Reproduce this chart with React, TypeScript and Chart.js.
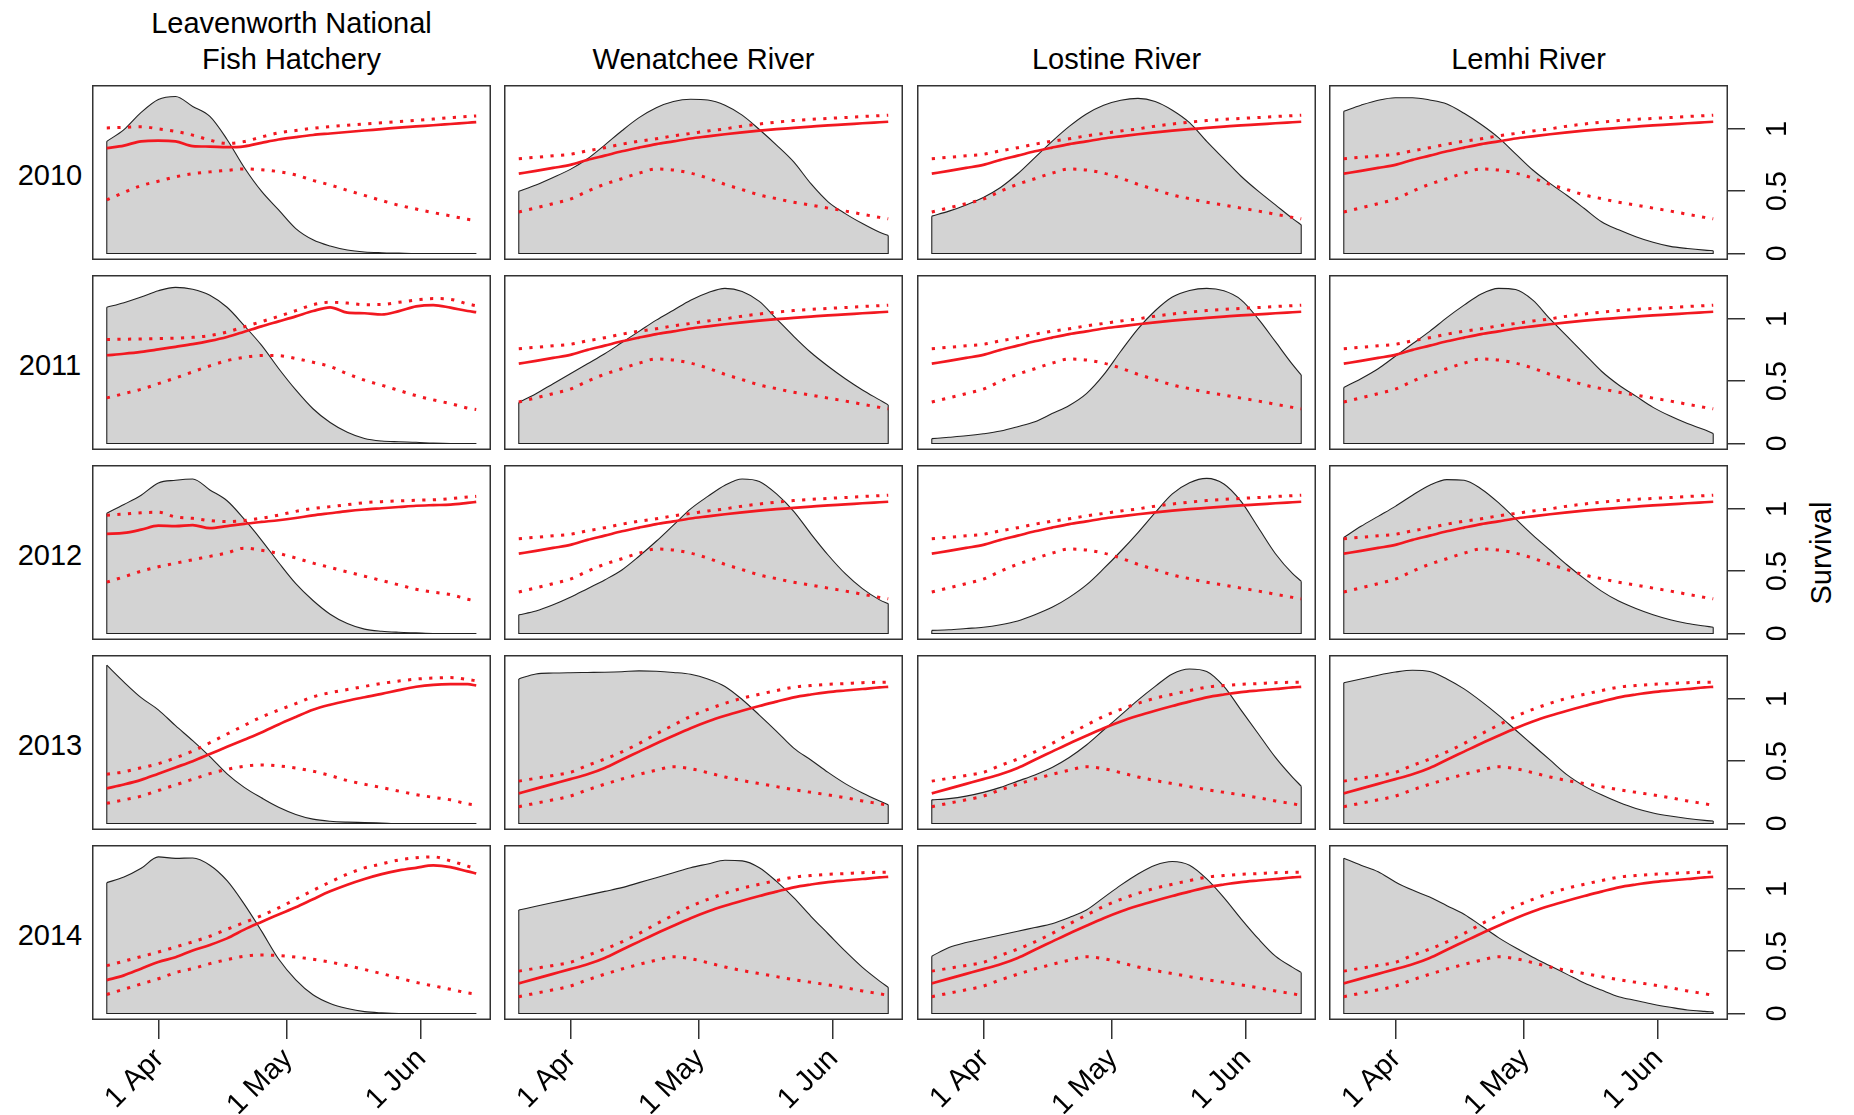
import React, { useEffect, useRef } from "react";
import { Chart, registerables } from "chart.js";

Chart.register(...registerables);

const FONT = '"Liberation Sans", Arial, Helvetica, sans-serif';

// ---------- categories & ticks ----------
const sites = ["Leavenworth National\nFish Hatchery", "Wenatchee River", "Lostine River", "Lemhi River"];
const years = ["2010", "2011", "2012", "2013", "2014"];
const yAxisTitle = "Survival";
// days relative to 1 April
const days = [-12, -8, -4, 0, 4, 8, 12, 16, 20, 24, 28, 32, 36, 40, 44, 48, 52, 56, 60, 64, 68, 72, 74];
const xTickDays = [0, 30, 61];
const xTickLabels = ["1 Apr", "1 May", "1 Jun"];
const yTickValues = [0, 0.5, 1];
const yTickLabels = ["0", "0.5", "1"];
const yLimits = [0, 1.3];

// ---------- survival curves (mean, upper, lower) ----------
const riverEarlyMean = [0.641, 0.663, 0.687, 0.711, 0.751, 0.785, 0.82, 0.85, 0.878, 0.9, 0.923, 0.94, 0.957, 0.972, 0.986, 0.998, 1.008, 1.018, 1.028, 1.036, 1.045, 1.053, 1.057];
const riverEarlyUpper = [0.761, 0.772, 0.784, 0.796, 0.824, 0.849, 0.877, 0.901, 0.921, 0.944, 0.963, 0.983, 1.0, 1.022, 1.039, 1.054, 1.067, 1.076, 1.084, 1.091, 1.099, 1.106, 1.11];
const riverEarlyLower = [0.333, 0.366, 0.4, 0.436, 0.5, 0.556, 0.6, 0.645, 0.678, 0.67, 0.645, 0.605, 0.555, 0.513, 0.47, 0.44, 0.411, 0.388, 0.364, 0.341, 0.315, 0.29, 0.279];

const riverLateMean = [0.242, 0.28, 0.318, 0.356, 0.395, 0.446, 0.512, 0.577, 0.642, 0.704, 0.764, 0.818, 0.864, 0.905, 0.943, 0.978, 1.012, 1.035, 1.054, 1.067, 1.079, 1.092, 1.097];
const riverLateUpper = [0.34, 0.363, 0.386, 0.41, 0.466, 0.517, 0.575, 0.642, 0.718, 0.79, 0.86, 0.916, 0.964, 1.005, 1.037, 1.067, 1.094, 1.107, 1.117, 1.123, 1.13, 1.133, 1.134];
const riverLateLower = [0.135, 0.163, 0.19, 0.22, 0.27, 0.315, 0.357, 0.394, 0.428, 0.455, 0.44, 0.408, 0.373, 0.345, 0.32, 0.296, 0.272, 0.25, 0.23, 0.207, 0.181, 0.158, 0.146];

const hatch2010Mean = [0.846, 0.866, 0.9, 0.905, 0.9, 0.862, 0.858, 0.853, 0.86, 0.888, 0.915, 0.934, 0.951, 0.963, 0.975, 0.987, 0.998, 1.01, 1.02, 1.029, 1.039, 1.049, 1.054];
const hatch2010Upper = [1.008, 1.012, 1.018, 1.0, 0.98, 0.95, 0.91, 0.883, 0.898, 0.935, 0.968, 0.987, 1.005, 1.018, 1.029, 1.04, 1.049, 1.058, 1.068, 1.079, 1.09, 1.1, 1.104];
const hatch2010Lower = [0.43, 0.49, 0.545, 0.58, 0.615, 0.64, 0.655, 0.667, 0.679, 0.672, 0.657, 0.63, 0.587, 0.55, 0.507, 0.466, 0.425, 0.387, 0.357, 0.328, 0.302, 0.275, 0.265];

const hatch2011Mean = [0.708, 0.72, 0.735, 0.755, 0.776, 0.797, 0.823, 0.855, 0.897, 0.94, 0.98, 1.02, 1.063, 1.093, 1.05, 1.045, 1.035, 1.062, 1.1, 1.111, 1.09, 1.063, 1.054];
const hatch2011Upper = [0.835, 0.837, 0.839, 0.842, 0.845, 0.852, 0.866, 0.895, 0.937, 0.978, 1.02, 1.066, 1.113, 1.133, 1.127, 1.114, 1.115, 1.133, 1.151, 1.163, 1.157, 1.12, 1.105];
const hatch2011Lower = [0.366, 0.4, 0.435, 0.48, 0.526, 0.575, 0.623, 0.665, 0.692, 0.706, 0.705, 0.682, 0.652, 0.618, 0.56, 0.508, 0.468, 0.426, 0.384, 0.35, 0.32, 0.285, 0.273];

const hatch2012Mean = [0.8, 0.807, 0.833, 0.865, 0.862, 0.87, 0.845, 0.862, 0.88, 0.895, 0.909, 0.927, 0.948, 0.965, 0.982, 0.995, 1.005, 1.015, 1.025, 1.03, 1.034, 1.048, 1.056];
const hatch2012Upper = [0.949, 0.958, 0.969, 0.973, 0.935, 0.924, 0.906, 0.898, 0.907, 0.925, 0.95, 0.98, 1.003, 1.018, 1.034, 1.05, 1.058, 1.064, 1.069, 1.073, 1.082, 1.095, 1.101];
const hatch2012Lower = [0.412, 0.455, 0.5, 0.535, 0.564, 0.592, 0.619, 0.647, 0.685, 0.668, 0.642, 0.606, 0.565, 0.53, 0.494, 0.46, 0.425, 0.39, 0.355, 0.332, 0.312, 0.275, 0.26];

const hatch2013Mean = [0.282, 0.313, 0.35, 0.4, 0.45, 0.5, 0.557, 0.615, 0.672, 0.73, 0.795, 0.855, 0.913, 0.953, 0.985, 1.013, 1.04, 1.07, 1.097, 1.113, 1.118, 1.118, 1.107];
const hatch2013Upper = [0.395, 0.415, 0.447, 0.48, 0.527, 0.58, 0.648, 0.718, 0.787, 0.855, 0.91, 0.962, 1.016, 1.05, 1.075, 1.1, 1.124, 1.143, 1.159, 1.167, 1.171, 1.155, 1.145];
const hatch2013Lower = [0.162, 0.19, 0.22, 0.265, 0.31, 0.355, 0.4, 0.434, 0.46, 0.47, 0.462, 0.445, 0.42, 0.385, 0.345, 0.315, 0.288, 0.26, 0.232, 0.21, 0.19, 0.158, 0.148];

const hatch2014Mean = [0.268, 0.306, 0.36, 0.413, 0.452, 0.505, 0.55, 0.603, 0.673, 0.735, 0.795, 0.852, 0.917, 0.98, 1.033, 1.079, 1.118, 1.148, 1.169, 1.188, 1.175, 1.14, 1.124];
const hatch2014Upper = [0.384, 0.42, 0.457, 0.493, 0.534, 0.575, 0.62, 0.676, 0.73, 0.785, 0.848, 0.917, 0.988, 1.055, 1.118, 1.168, 1.2, 1.232, 1.25, 1.257, 1.225, 1.182, 1.16];
const hatch2014Lower = [0.153, 0.195, 0.237, 0.279, 0.328, 0.36, 0.4, 0.432, 0.46, 0.47, 0.465, 0.453, 0.435, 0.412, 0.385, 0.353, 0.32, 0.285, 0.25, 0.222, 0.195, 0.165, 0.155];

// ---------- passage density (scaled) ----------
const densLeavenworth2010 = [0.9, 0.994, 1.132, 1.236, 1.26, 1.18, 1.1, 0.915, 0.69, 0.5, 0.35, 0.2, 0.11, 0.06, 0.028, 0.012, 0.006, 0.003, 0, 0, 0, 0, 0];
const densLeavenworth2011 = [1.093, 1.13, 1.175, 1.226, 1.253, 1.238, 1.19, 1.093, 0.946, 0.789, 0.602, 0.43, 0.279, 0.168, 0.09, 0.04, 0.02, 0.014, 0.01, 0.003, 0, 0, 0];
const densLeavenworth2012 = [0.965, 1.035, 1.11, 1.208, 1.23, 1.24, 1.152, 1.065, 0.917, 0.75, 0.57, 0.4, 0.265, 0.155, 0.08, 0.035, 0.018, 0.01, 0.005, 0, 0, 0, 0];
const densLeavenworth2013 = [1.27, 1.135, 1.01, 0.912, 0.785, 0.665, 0.537, 0.399, 0.29, 0.206, 0.13, 0.073, 0.035, 0.018, 0.011, 0.008, 0.004, 0, 0, 0, 0, 0, 0];
const densLeavenworth2014 = [1.05, 1.095, 1.165, 1.257, 1.245, 1.248, 1.19, 1.066, 0.878, 0.663, 0.437, 0.27, 0.15, 0.08, 0.04, 0.015, 0.005, 0, 0, 0, 0, 0, 0];

const densWenatchee2010 = [0.5, 0.55, 0.61, 0.675, 0.76, 0.87, 0.985, 1.09, 1.17, 1.22, 1.238, 1.232, 1.19, 1.11, 0.995, 0.87, 0.735, 0.56, 0.415, 0.32, 0.24, 0.17, 0.145];
const densWenatchee2011 = [0.33, 0.4, 0.48, 0.56, 0.64, 0.72, 0.81, 0.9, 0.99, 1.07, 1.15, 1.21, 1.245, 1.22, 1.14, 1.0, 0.86, 0.73, 0.62, 0.52, 0.43, 0.35, 0.31];
const densWenatchee2012 = [0.15, 0.18, 0.23, 0.29, 0.36, 0.43, 0.51, 0.62, 0.74, 0.87, 1.0, 1.1, 1.19, 1.24, 1.22, 1.12, 0.98, 0.8, 0.63, 0.48, 0.36, 0.27, 0.24];
const densWenatchee2013 = [1.16, 1.2, 1.207, 1.21, 1.212, 1.214, 1.218, 1.225, 1.222, 1.212, 1.197, 1.16, 1.1, 0.995, 0.87, 0.74, 0.605, 0.51, 0.41, 0.32, 0.245, 0.18, 0.15];
const densWenatchee2014 = [0.83, 0.86, 0.89, 0.92, 0.95, 0.98, 1.01, 1.05, 1.09, 1.13, 1.17, 1.2, 1.23, 1.225, 1.17, 1.06, 0.93, 0.78, 0.64, 0.5, 0.37, 0.26, 0.21];

const densLostine2010 = [0.3, 0.34, 0.39, 0.45, 0.53, 0.64, 0.77, 0.9, 1.02, 1.12, 1.19, 1.23, 1.245, 1.22, 1.15, 1.05, 0.9, 0.76, 0.62, 0.5, 0.39, 0.28, 0.23];
const densLostine2011 = [0.039, 0.05, 0.062, 0.078, 0.1, 0.135, 0.175, 0.24, 0.305, 0.4, 0.55, 0.74, 0.92, 1.065, 1.175, 1.228, 1.245, 1.225, 1.153, 1.0, 0.817, 0.633, 0.55];
const densLostine2012 = [0.025, 0.03, 0.04, 0.05, 0.07, 0.1, 0.15, 0.21, 0.29, 0.39, 0.52, 0.66, 0.81, 0.97, 1.12, 1.21, 1.245, 1.2, 1.06, 0.85, 0.64, 0.48, 0.42];
const densLostine2013 = [0.19, 0.2, 0.22, 0.25, 0.29, 0.34, 0.39, 0.45, 0.53, 0.63, 0.75, 0.87, 0.99, 1.1, 1.2, 1.24, 1.22, 1.1, 0.91, 0.72, 0.53, 0.37, 0.3];
const densLostine2014 = [0.46, 0.53, 0.57, 0.6, 0.63, 0.66, 0.69, 0.72, 0.77, 0.83, 0.93, 1.03, 1.12, 1.19, 1.22, 1.19, 1.08, 0.93, 0.76, 0.6, 0.46, 0.37, 0.33];

const densLemhi2010 = [1.142, 1.19, 1.23, 1.25, 1.25, 1.232, 1.2, 1.125, 1.035, 0.93, 0.8, 0.67, 0.563, 0.465, 0.361, 0.255, 0.19, 0.135, 0.09, 0.057, 0.04, 0.027, 0.022];
const densLemhi2011 = [0.45, 0.52, 0.6, 0.7, 0.8, 0.9, 1.01, 1.11, 1.2, 1.245, 1.235, 1.15, 1.0, 0.86, 0.72, 0.58, 0.47, 0.38, 0.29, 0.22, 0.16, 0.11, 0.08];
const densLemhi2012 = [0.77, 0.86, 0.94, 1.02, 1.11, 1.19, 1.235, 1.23, 1.16, 1.05, 0.92, 0.79, 0.67, 0.55, 0.44, 0.34, 0.26, 0.2, 0.15, 0.11, 0.08, 0.06, 0.05];
const densLemhi2013 = [1.13, 1.16, 1.19, 1.215, 1.23, 1.22, 1.16, 1.08, 0.98, 0.87, 0.75, 0.63, 0.51, 0.39, 0.3, 0.23, 0.17, 0.12, 0.085, 0.06, 0.04, 0.025, 0.02];
const densLemhi2014 = [1.246, 1.19, 1.137, 1.056, 0.99, 0.934, 0.865, 0.797, 0.704, 0.609, 0.527, 0.452, 0.383, 0.314, 0.245, 0.188, 0.135, 0.105, 0.075, 0.05, 0.028, 0.017, 0.013];

// ---------- tables built from the arrays above ----------
const hatcheryCurves = [
  [hatch2010Mean, hatch2010Upper, hatch2010Lower],
  [hatch2011Mean, hatch2011Upper, hatch2011Lower],
  [hatch2012Mean, hatch2012Upper, hatch2012Lower],
  [hatch2013Mean, hatch2013Upper, hatch2013Lower],
  [hatch2014Mean, hatch2014Upper, hatch2014Lower],
];
const riverEarly = [riverEarlyMean, riverEarlyUpper, riverEarlyLower];
const riverLate = [riverLateMean, riverLateUpper, riverLateLower];

const densityTable = [
  [densLeavenworth2010, densWenatchee2010, densLostine2010, densLemhi2010],
  [densLeavenworth2011, densWenatchee2011, densLostine2011, densLemhi2011],
  [densLeavenworth2012, densWenatchee2012, densLostine2012, densLemhi2012],
  [densLeavenworth2013, densWenatchee2013, densLostine2013, densLemhi2013],
  [densLeavenworth2014, densWenatchee2014, densLostine2014, densLemhi2014],
];

function curvesFor(row: number, col: number) {
  if (col === 0) return hatcheryCurves[row];
  return row < 3 ? riverEarly : riverLate;
}

// ---------- layout ----------
const COL_LEFT = [92, 504, 917, 1329];
const ROW_TOP = [85, 275, 465, 655, 845];
const BOX_W = 399;
const BOX_H = 175;
const Y_AXIS_W = 110;
const X_AXIS_H = 94;
const FONT_SIZE = 29;

const xSpan = days[days.length - 1] - days[0];
const X_MIN = days[0] - 0.04 * xSpan;
const X_MAX = days[days.length - 1] + 0.04 * xSpan;
const ySpan = yLimits[1] - yLimits[0];
const Y_MIN = yLimits[0] - 0.04 * ySpan;
const Y_MAX = yLimits[1] + 0.04 * ySpan;

const RED = "rgb(242,24,32)";

const boxPlugin = {
  id: "panelBox",
  afterDatasetsDraw(chart: any) {
    const { ctx, chartArea: a } = chart;
    ctx.save();
    ctx.strokeStyle = "#333";
    ctx.lineWidth = 1.5;
    ctx.strokeRect(a.left + 0.75, a.top + 0.75, a.right - a.left - 1.5, a.bottom - a.top - 1.5);
    ctx.restore();
  },
};

const toPoints = (vals: number[]) => days.map((d, i) => ({ x: d, y: vals[i] }));

function Panel({ row, col }: { row: number; col: number }) {
  const ref = useRef<HTMLCanvasElement | null>(null);
  const showX = row === years.length - 1;
  const showY = col === sites.length - 1;
  const w = BOX_W + (showY ? Y_AXIS_W : 0);
  const h = BOX_H + (showX ? X_AXIS_H : 0);

  useEffect(() => {
    if (!ref.current) return;
    const [mean, upper, lower] = curvesFor(row, col);
    const dens = densityTable[row][col];
    const last = days.length - 1;
    const frame = [
      { x: days[0], y: dens[0] },
      { x: days[0], y: 0 },
      { x: days[last], y: 0 },
      { x: days[last], y: dens[last] },
    ];
    const dotted = {
      borderColor: RED,
      borderWidth: 3,
      borderDash: [3.2, 7.4],
      pointRadius: 0,
      fill: false,
      cubicInterpolationMode: "monotone" as const,
    };
    const chart = new Chart(ref.current, {
      type: "line",
      data: {
        datasets: [
          {
            label: "mean",
            data: toPoints(mean),
            borderColor: RED,
            borderWidth: 2.7,
            pointRadius: 0,
            fill: false,
            cubicInterpolationMode: "monotone",
          },
          { label: "upper", data: toPoints(upper), ...dotted },
          { label: "lower", data: toPoints(lower), ...dotted },
          {
            label: "frame",
            data: frame,
            borderColor: "#222",
            borderWidth: 1.1,
            pointRadius: 0,
            fill: false,
            tension: 0,
          },
          {
            label: "density",
            data: toPoints(dens),
            borderColor: "#222",
            borderWidth: 1.1,
            backgroundColor: "#d3d3d3",
            pointRadius: 0,
            fill: "origin",
            cubicInterpolationMode: "monotone",
          },
        ],
      } as any,
      options: {
        responsive: false,
        maintainAspectRatio: false,
        animation: false,
        devicePixelRatio: 1,
        events: [],
        layout: { padding: 0, autoPadding: false },
        plugins: { legend: { display: false }, tooltip: { enabled: false }, title: { display: false } },
        scales: {
          x: {
            type: "linear",
            min: X_MIN,
            max: X_MAX,
            display: showX,
            position: "bottom",
            grid: { display: true, drawOnChartArea: false, drawTicks: true, tickLength: 19, color: "#333", lineWidth: 1.5 },
            border: { display: false },
            ticks: {
              autoSkip: false,
              minRotation: 45,
              maxRotation: 45,
              padding: 3,
              labelOffset: 1,
              color: "#000",
              font: { family: FONT, size: FONT_SIZE },
              callback: (_v: any, i: number) => xTickLabels[i],
            },
            afterBuildTicks: (s: any) => {
              s.ticks = xTickDays.map((v) => ({ value: v }));
            },
            afterFit: (s: any) => {
              s.height = showX ? X_AXIS_H : 0;
              s.paddingLeft = 0;
              s.paddingRight = 0;
              s.paddingTop = 0;
              s.paddingBottom = 0;
            },
          },
          y: {
            type: "linear",
            min: Y_MIN,
            max: Y_MAX,
            display: showY,
            position: "right",
            grid: { display: true, drawOnChartArea: false, drawTicks: true, tickLength: 17, color: "#333", lineWidth: 1.5 },
            border: { display: false },
            ticks: {
              autoSkip: false,
              minRotation: 90,
              maxRotation: 90,
              crossAlign: "center",
              padding: 13,
              color: "#000",
              font: { family: FONT, size: FONT_SIZE },
              callback: (_v: any, i: number) => yTickLabels[i],
            },
            afterBuildTicks: (s: any) => {
              s.ticks = yTickValues.map((v) => ({ value: v }));
            },
            afterFit: (s: any) => {
              s.width = showY ? Y_AXIS_W : 0;
              s.paddingLeft = 0;
              s.paddingRight = 0;
              s.paddingTop = 0;
              s.paddingBottom = 0;
            },
          },
        },
      } as any,
      plugins: [boxPlugin],
    });
    return () => chart.destroy();
  }, [row, col]);

  return (
    <canvas
      ref={ref}
      width={w}
      height={h}
      style={{ position: "absolute", left: COL_LEFT[col], top: ROW_TOP[row], width: w, height: h }}
    />
  );
}

const textStyle: React.CSSProperties = {
  position: "absolute",
  fontFamily: FONT,
  fontSize: FONT_SIZE,
  color: "#000",
  whiteSpace: "pre",
};

export default function App() {
  const LINE = 36.7;
  return (
    <div
      style={{
        position: "absolute",
        left: 0,
        top: 0,
        width: 1854,
        height: 1115,
        overflow: "hidden",
        background: "#fff",
      }}
    >
      {sites.map((s, c) => {
        const lines = s.split("\n").length;
        return (
          <div
            key={"t" + c}
            style={{
              ...textStyle,
              left: COL_LEFT[c],
              width: BOX_W,
              textAlign: "center",
              lineHeight: LINE + "px",
              top: 70 - 28.75 - (lines - 1) * LINE,
            }}
          >
            {s}
          </div>
        );
      })}
      {years.map((y, r) => (
        <div
          key={"y" + r}
          style={{
            ...textStyle,
            left: 0,
            width: 100,
            textAlign: "center",
            lineHeight: "30px",
            top: ROW_TOP[r] + BOX_H / 2 - 13,
          }}
        >
          {y}
        </div>
      ))}
      <div
        style={{
          ...textStyle,
          left: 1821,
          top: 553,
          lineHeight: "30px",
          transform: "translate(-50%, -50%) rotate(-90deg)",
        }}
      >
        {yAxisTitle}
      </div>
      {years.map((_, r) => sites.map((__, c) => <Panel key={r + "-" + c} row={r} col={c} />))}
    </div>
  );
}
